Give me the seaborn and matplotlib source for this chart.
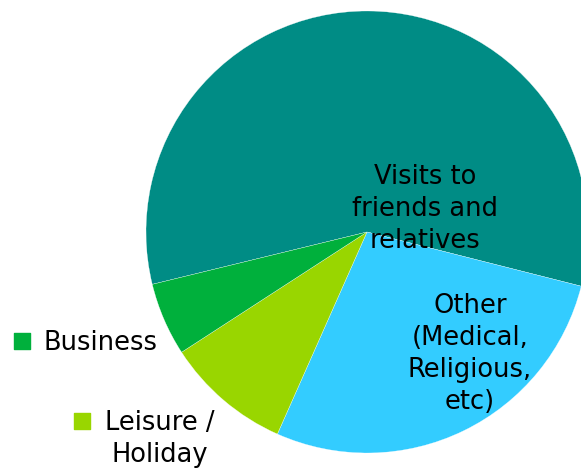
import matplotlib
matplotlib.use("Agg")
import matplotlib.pyplot as plt
import seaborn as sns

sns.set_theme(style="white")
plt.rcParams["font.family"] = ["DejaVu Sans"]

# Purpose of visit shares (percent), clockwise order
categories = ["Visits to friends and relatives", "Other (Medical, Religious, etc)",
              "Leisure / Holiday", "Business"]
shares = [57.75, 27.7, 9.2, 5.35]
colors = ["#008C85", "#33CCFF", "#99D600", "#00B03C"]

W, H = 581, 470
cx, cy, R = 367, 232, 221

fig = plt.figure(figsize=(W / 100, H / 100), dpi=100)
ax = fig.add_axes([0, 0, 1, 1])

ax.pie(shares, colors=colors, startangle=193.7, counterclock=False, radius=1.0,
       wedgeprops=dict(edgecolor="white", linewidth=0.2))

ax.set_xlim(-cx / R, (W - cx) / R)
ax.set_ylim((cy - H) / R, cy / R)
ax.set_aspect("auto")
ax.axis("off")


def px(x, y):
    return (x - cx) / R, (cy - y) / R


fs = 18.5
ls = 1.3
ax.text(*px(425, 209), "Visits to\nfriends and\nrelatives", ha="center", va="center",
        fontsize=fs, color="black", linespacing=ls)
ax.text(*px(470, 354), "Other\n(Medical,\nReligious,\netc)", ha="center", va="center",
        fontsize=fs, color="black", linespacing=ls)

# Labels for the small slices with colour keys
ax.scatter(*px(21.5, 341), marker="s", s=120, color=colors[3], clip_on=False)
ax.text(*px(43, 343), "Business", ha="left", va="center", fontsize=fs, color="black")
ax.scatter(*px(81.5, 421), marker="s", s=120, color=colors[2], clip_on=False)
ax.text(*px(160, 439), "Leisure /\nHoliday", ha="center", va="center",
        fontsize=fs, color="black", linespacing=ls)

fig.savefig("out.png", dpi=100)
